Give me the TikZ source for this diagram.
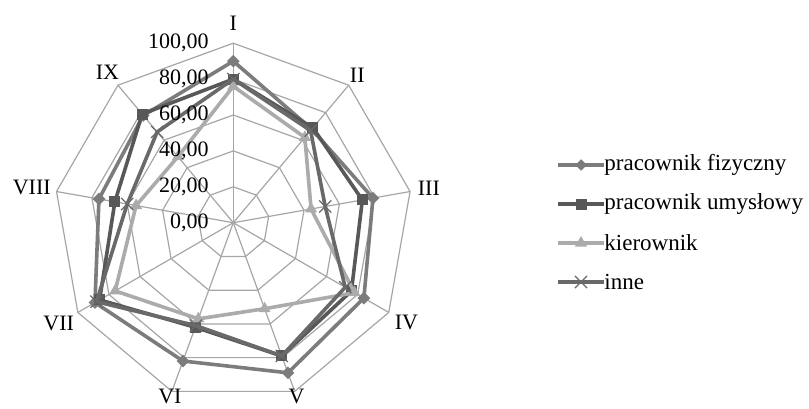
\documentclass[tikz,border=0pt]{standalone}
\usepackage{fontspec}
\setmainfont{Liberation Serif}
\usetikzlibrary{shapes.geometric,shapes.misc,positioning}
\definecolor{gridgray}{HTML}{A6A6A6}
\definecolor{fizgray}{HTML}{7C7C7C}
\definecolor{umygray}{HTML}{585858}
\definecolor{kiegray}{HTML}{ABABAB}
\definecolor{innegray}{HTML}{696969}
\tikzset{
  gridline/.style={gridgray, line width=0.6pt},
  series/.style={line width=1.8pt, line join=round},
  fizmark/.style={diamond, fill=fizgray, inner sep=0pt, minimum size=6.5pt},
  umymark/.style={rectangle, fill=umygray, inner sep=0pt, minimum size=5.5pt},
  kiemark/.style={regular polygon, regular polygon sides=3, fill=kiegray, inner sep=0pt, minimum size=7pt},
  innemark/.style={cross out, draw=innegray, line width=0.6pt, inner sep=0pt, minimum size=5.5pt},
  axislabel/.style={font=\fontsize{11}{13}\selectfont, inner sep=0pt},
  legendtext/.style={font=\fontsize{11.5}{14}\selectfont, anchor=west, inner sep=0pt},
}
\newcommand{\radarseries}[3]{%
  \foreach \v [count=\k] in {#3}
    \coordinate (#1\k) at ({130-40*\k}:{1.795*\v});
  \draw[series, #2] (#11) \foreach \k in {2,...,9} { -- (#1\k) } -- cycle;
  \foreach \k in {1,...,9}
    \node[#1mark] at (#1\k) {};
}

\begin{document}
\begin{tikzpicture}[x=0.5pt, y=0.5pt]
  \useasboundingbox (0,0) rectangle (809,408);
  \begin{scope}[shift={(233.3,185.3)}]
    \foreach \r in {1,...,5}
      \draw[gridline] (90:{35.9*\r}) \foreach \k in {2,...,9} { -- ({130-40*\k}:{35.9*\r}) } -- cycle;
    \foreach \k in {1,...,9}
      \draw[gridline] (0,0) -- ({130-40*\k}:179.5);
    \foreach \t/\rr [count=\k, evaluate=\k as \an using {int(mod(310-40*\k+360,360))}] in
        {I/192,II/183,III/187,IV/186,V/177,VI/177,VII/186,VIII/185,IX/186}
      \node[axislabel, anchor=\an] (ax\k) at ({130-40*\k}:\rr) {\t};

    \radarseries{fiz}{fizgray}{90,68,79,84,89,82,89,76,78}
    \radarseries{umy}{umygray}{80,69,73,76,79,62,86,67,79}
    \radarseries{kie}{kiegray}{76,62,44,78,51,57,76,55,48}
    \radarseries{inne}{innegray}{80,67,52,72,79,61,88,60,66}

    \foreach \n [count=\i from 0] in {0,20,40,60,80,100}
      \node[axislabel, anchor=east] (val\n) at (-24.3, 35.9*\i) {\n,00};
  \end{scope}

  \node[legendtext] (lfiz)  at (604,243) {pracownik fizyczny};
  \node[legendtext] (lumy)  at (604,204) {pracownik umysłowy};
  \node[legendtext] (lkie)  at (604,165) {kierownik};
  \node[legendtext] (linne) at (604,126) {inne};
  \draw[series, fizgray]  (lfiz.west)  -- ++(-46,0) node[midway, fizmark] {};
  \draw[series, umygray]  (lumy.west)  -- ++(-46,0) node[midway, umymark] {};
  \draw[series, kiegray]  (lkie.west)  -- ++(-46,0) node[midway, kiemark] {};
  \draw[series, innegray] (linne.west) -- ++(-46,0) node[midway, innemark] {};
\end{tikzpicture}
\end{document}
